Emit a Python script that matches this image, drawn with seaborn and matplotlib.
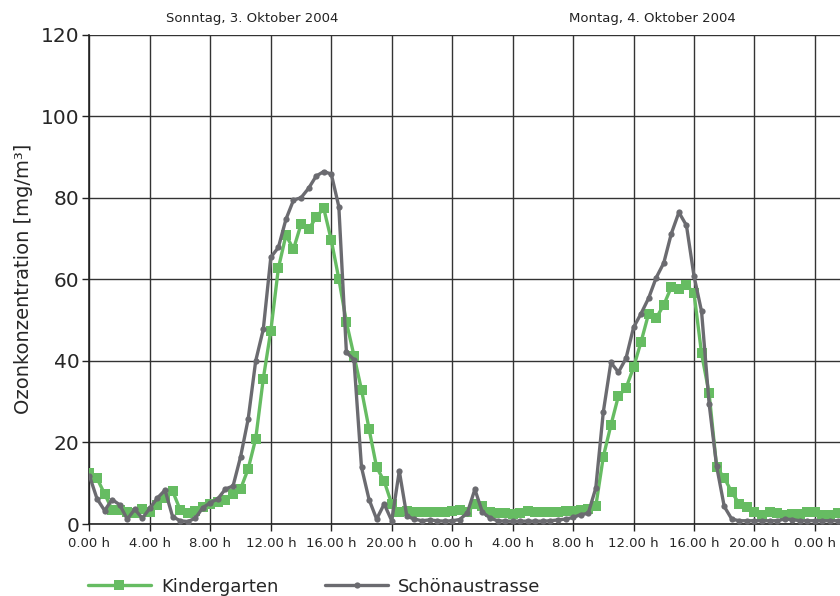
import matplotlib
matplotlib.use("Agg")
import matplotlib.pyplot as plt
import numpy as np
import pandas as pd
import seaborn as sns

# half-hourly readings, 0 h = Sunday 00:00
hours = np.arange(0, 50, 0.5)

kindergarten = [
    12.5, 11.2, 7.4, 3.5, 3.4, 3.0, 2.8, 3.7, 3.0, 4.7,
    6.4, 8.1, 3.5, 2.7, 3.3, 4.1, 4.9, 5.3, 5.8, 7.3,
    8.6, 13.5, 20.9, 35.6, 47.4, 62.7, 70.8, 67.4, 73.5, 72.2,
    75.2, 77.4, 69.6, 60.1, 49.5, 41.3, 32.9, 23.3, 13.9, 10.5,
    4.9, 2.9, 3.3, 2.9, 2.9, 2.9, 2.9, 2.9, 3.2, 3.5,
    3.0, 4.8, 4.4, 2.9, 2.6, 2.6, 2.5, 2.7, 3.1, 3.0,
    3.0, 3.0, 3.0, 3.1, 3.3, 3.4, 3.7, 4.3, 16.5, 24.2,
    31.4, 33.3, 38.4, 44.7, 51.6, 50.5, 53.7, 58.1, 57.5, 58.6,
    56.6, 41.8, 32.0, 13.9, 11.3, 7.8, 4.9, 4.1, 2.9, 2.1,
    2.9, 2.6, 2.3, 2.4, 2.5, 2.9, 2.9, 2.3, 2.1, 2.6,
]

schoenaustrasse = [
    11.8, 6.2, 3.3, 6.0, 4.7, 1.2, 3.6, 1.4, 3.9, 6.4,
    8.3, 1.8, 0.8, 0.6, 1.4, 4.0, 5.2, 6.2, 8.6, 9.3,
    16.5, 25.7, 40.0, 47.7, 65.4, 67.8, 74.7, 79.4, 80.0, 82.3,
    85.3, 86.4, 85.8, 77.8, 42.1, 40.3, 13.9, 6.0, 1.2, 4.9,
    0.8, 13.0, 1.9, 1.2, 0.8, 1.0, 0.8, 0.7, 0.8, 1.1,
    2.7, 8.5, 2.9, 1.5, 0.8, 0.7, 0.7, 0.7, 0.7, 0.7,
    0.7, 0.8, 1.0, 1.2, 1.6, 2.3, 2.6, 8.8, 27.5, 39.6,
    37.2, 40.6, 48.2, 51.6, 55.4, 60.4, 64.0, 71.2, 76.4, 73.2,
    60.8, 52.1, 29.5, 14.1, 4.3, 1.2, 0.8, 0.8, 0.8, 0.8,
    0.8, 0.8, 1.2, 1.1, 0.8, 0.8, 0.8, 0.8, 0.8, 0.8,
]

x_ticks = [0, 4, 8, 12, 16, 20, 24, 28, 32, 36, 40, 44, 48]
x_tick_labels = ["0.00 h", "4.00 h", "8.00 h", "12.00 h", "16.00 h", "20.00 h",
                 "0.00 h", "4.00 h", "8.00 h", "12.00 h", "16.00 h", "20.00 h", "0.00 h"]
y_ticks = [0, 20, 40, 60, 80, 100, 120]
day_labels = ["Sonntag, 3. Oktober 2004", "Montag, 4. Oktober 2004"]
day_label_pos = [10.8, 37.25]

GREEN = "#66bc62"
GREY = "#6b6b70"

sns.set_theme(style="white")
plt.rcParams["font.family"] = ["DejaVu Sans"]

df = pd.DataFrame({"hour": hours, "Kindergarten": kindergarten,
                   "Schönaustrasse": schoenaustrasse})

fig = plt.figure(figsize=(8.4, 5.96), dpi=100)
ax = fig.add_axes([0.1065, 0.1208, 0.8935, 0.8213])

sns.lineplot(data=df, x="hour", y="Kindergarten", color=GREEN, linewidth=2.4,
             marker="s", markersize=6.5, markeredgecolor=GREEN, markeredgewidth=0,
             label="Kindergarten", ax=ax, zorder=3)
sns.lineplot(data=df, x="hour", y="Schönaustrasse", color=GREY, linewidth=2.4,
             marker="o", markersize=4.5, markeredgecolor=GREY, markeredgewidth=0,
             label="Schönaustrasse", ax=ax, zorder=4)

ax.set_xlim(0, 49.66)
ax.set_ylim(0, 120)
ax.set_xticks(x_ticks)
ax.set_xticklabels(x_tick_labels, fontsize=9.5)
ax.set_yticks(y_ticks)
ax.set_yticklabels([str(v) for v in y_ticks], fontsize=14.5)
ax.tick_params(axis="both", direction="out", length=5, width=1, color="#222222",
               bottom=True, left=True)
ax.tick_params(axis="y", pad=2)
ax.tick_params(axis="x", pad=4)

ax.grid(True, color="#333333", linewidth=1.0)
for side in ["top", "right"]:
    ax.spines[side].set_visible(False)
for side in ["left", "bottom"]:
    ax.spines[side].set_color("#222222")
    ax.spines[side].set_linewidth(1.2)

ax.set_xlabel("")
ax.set_ylabel("Ozonkonzentration [mg/m³]", fontsize=14, labelpad=6)

for lbl, pos in zip(day_labels, day_label_pos):
    ax.text(pos, 1.02, lbl, transform=ax.get_xaxis_transform(), ha="center",
            va="bottom", fontsize=9.5, color="#222222")

ax.legend(loc="center left", bbox_to_anchor=(-0.012, -0.128), ncol=2,
          frameon=False, fontsize=13, handlelength=3.5, handletextpad=0.55,
          columnspacing=2.6, borderaxespad=0)

fig.savefig("out.png", dpi=100)
plt.close(fig)
